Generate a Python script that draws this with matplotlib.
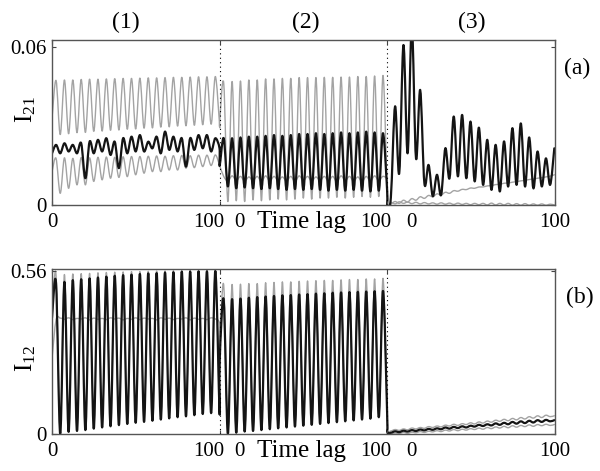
import matplotlib
matplotlib.use("Agg")
import matplotlib.pyplot as plt
import matplotlib.transforms as mtransforms
from matplotlib.path import Path
from matplotlib.patches import PathPatch
import numpy as np

plt.rcParams["font.family"] = ["Liberation Serif", "DejaVu Serif"]
plt.rcParams["mathtext.default"] = "regular"

# sample times inside one 0..100 window (start, then alternating peak / trough)
t_12 = np.concatenate([[0.0], 2.5 * np.arange(1, 41) - 0.1])
t_3 = np.concatenate([[0.0], 2.5 * np.arange(40) + 2.1])

# ---------------- panel (a): I21 ----------------
a_black_1 = [0.0197,
             0.0229, 0.0197, 0.0235, 0.0204, 0.0229, 0.0197, 0.0235, 0.0103, 0.0241, 0.0197,
             0.0248, 0.0204, 0.0254, 0.0191, 0.0241, 0.0141, 0.0254, 0.0197, 0.0260, 0.0204,
             0.0266, 0.0204, 0.0241, 0.0216, 0.0260, 0.0197, 0.0279, 0.0210, 0.0260, 0.0204,
             0.0254, 0.0147, 0.0254, 0.0210, 0.0266, 0.0216, 0.0266, 0.0204, 0.0254, 0.0216]
a_grey_hi_1 = [0.0330,
               0.0472, 0.0268, 0.0474, 0.0271, 0.0474, 0.0275, 0.0476, 0.0276, 0.0477, 0.0280,
               0.0477, 0.0281, 0.0478, 0.0284, 0.0479, 0.0285, 0.0480, 0.0288, 0.0480, 0.0289,
               0.0481, 0.0292, 0.0482, 0.0293, 0.0482, 0.0296, 0.0483, 0.0297, 0.0484, 0.0300,
               0.0484, 0.0301, 0.0485, 0.0303, 0.0486, 0.0305, 0.0486, 0.0307, 0.0487, 0.0310]
a_grey_lo_1 = [0.0128,
               0.0178, 0.0046, 0.0180, 0.0065, 0.0178, 0.0078, 0.0181, 0.0078, 0.0180, 0.0091,
               0.0182, 0.0097, 0.0183, 0.0103, 0.0182, 0.0106, 0.0184, 0.0109, 0.0185, 0.0116,
               0.0185, 0.0122, 0.0186, 0.0128, 0.0187, 0.0128, 0.0186, 0.0134, 0.0188, 0.0134,
               0.0189, 0.0141, 0.0188, 0.0143, 0.0190, 0.0147, 0.0190, 0.0151, 0.0191, 0.0153]

a_black_2 = [0.0150,
             0.0254, 0.0072, 0.0254, 0.0065, 0.0257, 0.0068, 0.0260, 0.0065, 0.0260, 0.0062,
             0.0263, 0.0065, 0.0266, 0.0062, 0.0263, 0.0059, 0.0266, 0.0062, 0.0270, 0.0059,
             0.0270, 0.0062, 0.0273, 0.0059, 0.0270, 0.0056, 0.0273, 0.0059, 0.0276, 0.0056,
             0.0273, 0.0059, 0.0276, 0.0056, 0.0279, 0.0053, 0.0276, 0.0056, 0.0273, 0.0053]
a_grey_hi_2 = [0.0317,
               0.0462, 0.0015, 0.0468, 0.0018, 0.0470, 0.0015, 0.0474, 0.0021, 0.0474, 0.0018,
               0.0478, 0.0021, 0.0478, 0.0024, 0.0480, 0.0021, 0.0480, 0.0024, 0.0483, 0.0028,
               0.0483, 0.0024, 0.0483, 0.0028, 0.0484, 0.0028, 0.0484, 0.0031, 0.0485, 0.0028,
               0.0485, 0.0031, 0.0487, 0.0034, 0.0487, 0.0031, 0.0489, 0.0034, 0.0491, 0.0037]
a_grey_lo_2 = [0.0150,
               0.0110, 0.0092, 0.0112, 0.0094, 0.0110, 0.0092, 0.0108, 0.0094, 0.0110, 0.0090,
               0.0112, 0.0092, 0.0110, 0.0094, 0.0108, 0.0092, 0.0110, 0.0090, 0.0112, 0.0094,
               0.0110, 0.0092, 0.0108, 0.0094, 0.0110, 0.0092, 0.0110, 0.0090, 0.0112, 0.0094,
               0.0110, 0.0092, 0.0108, 0.0090, 0.0110, 0.0092, 0.0112, 0.0094, 0.0110, 0.0092]

a_black_3 = [0.0000,
             0.0030, 0.0374, 0.0122, 0.0606, 0.0197, 0.0680, 0.0178, 0.0436, 0.0084, 0.0153,
             0.0035, 0.0116, 0.0040, 0.0216, 0.0103, 0.0336, 0.0110, 0.0342, 0.0103, 0.0317,
             0.0091, 0.0294, 0.0078, 0.0248, 0.0059, 0.0229, 0.0053, 0.0242, 0.0072, 0.0292,
             0.0078, 0.0310, 0.0072, 0.0257, 0.0065, 0.0204, 0.0072, 0.0178, 0.0078, 0.0216]
a_grey_hi_3 = [0.0000,
               0.0005, 0.0015, 0.0008, 0.0020, 0.0013, 0.0026, 0.0020, 0.0033, 0.0027, 0.0038,
               0.0033, 0.0044, 0.0040, 0.0050, 0.0046, 0.0056, 0.0054, 0.0061, 0.0060, 0.0066,
               0.0065, 0.0070, 0.0070, 0.0074, 0.0075, 0.0079, 0.0080, 0.0084, 0.0085, 0.0088,
               0.0090, 0.0093, 0.0095, 0.0098, 0.0100, 0.0103, 0.0105, 0.0108, 0.0111, 0.0116]
a_grey_lo_3 = [0.0000,
               0.0012, 0.0006, 0.0014, 0.0008, 0.0013, 0.0007, 0.0012, 0.0006, 0.0011, 0.0006,
               0.0010, 0.0005, 0.0010, 0.0005, 0.0009, 0.0004, 0.0009, 0.0004, 0.0008, 0.0003,
               0.0008, 0.0003, 0.0008, 0.0002, 0.0009, 0.0002, 0.0008, 0.0002, 0.0008, 0.0001,
               0.0007, 0.0001, 0.0007, 0.0001, 0.0006, 0.0001, 0.0006, 0.0001, 0.0005, 0.0002]

# ---------------- panel (b): I12 ----------------
b_black_1 = [0.400,
             0.517, 0.003, 0.522, 0.009, 0.528, 0.012, 0.531, 0.015, 0.534, 0.020,
             0.537, 0.024, 0.540, 0.028, 0.543, 0.032, 0.545, 0.036, 0.547, 0.040,
             0.549, 0.043, 0.551, 0.047, 0.552, 0.051, 0.554, 0.055, 0.555, 0.059,
             0.557, 0.062, 0.557, 0.066, 0.558, 0.070, 0.558, 0.073, 0.559, 0.077]
b_grey_hi_1 = [0.400,
               0.545, 0.009, 0.547, 0.015, 0.549, 0.018, 0.550, 0.021, 0.551, 0.026,
               0.553, 0.030, 0.554, 0.034, 0.555, 0.038, 0.556, 0.042, 0.557, 0.046,
               0.557, 0.049, 0.558, 0.053, 0.559, 0.057, 0.559, 0.061, 0.560, 0.065,
               0.560, 0.068, 0.561, 0.072, 0.561, 0.076, 0.562, 0.079, 0.562, 0.083]
b_grey_lo_1 = [0.260,
               0.392, 0.398, 0.394, 0.399, 0.393, 0.397, 0.395, 0.399, 0.392, 0.398,
               0.394, 0.397, 0.393, 0.399, 0.395, 0.398, 0.392, 0.397, 0.394, 0.399,
               0.393, 0.398, 0.395, 0.397, 0.392, 0.399, 0.394, 0.398, 0.393, 0.397,
               0.395, 0.399, 0.392, 0.398, 0.394, 0.397, 0.393, 0.399, 0.395, 0.380]

b_black_2 = [0.250,
             0.460, 0.003, 0.463, 0.006, 0.465, 0.010, 0.468, 0.012, 0.470, 0.015,
             0.472, 0.018, 0.474, 0.021, 0.476, 0.024, 0.477, 0.027, 0.479, 0.030,
             0.480, 0.033, 0.482, 0.036, 0.483, 0.039, 0.485, 0.042, 0.486, 0.045,
             0.487, 0.048, 0.488, 0.051, 0.489, 0.054, 0.490, 0.059, 0.491, 0.066]
b_grey_hi_2 = [0.270,
               0.511, 0.011, 0.513, 0.014, 0.514, 0.018, 0.516, 0.020, 0.516, 0.023,
               0.519, 0.026, 0.520, 0.029, 0.522, 0.032, 0.522, 0.035, 0.524, 0.038,
               0.525, 0.041, 0.526, 0.044, 0.527, 0.047, 0.527, 0.050, 0.529, 0.053,
               0.530, 0.056, 0.530, 0.059, 0.532, 0.062, 0.532, 0.067, 0.534, 0.074]
b_grey_lo_2 = [0.300,
               0.448, 0.006, 0.450, 0.009, 0.452, 0.013, 0.455, 0.015, 0.457, 0.018,
               0.459, 0.021, 0.461, 0.024, 0.463, 0.027, 0.464, 0.030, 0.466, 0.033,
               0.467, 0.036, 0.469, 0.039, 0.470, 0.042, 0.472, 0.045, 0.473, 0.048,
               0.474, 0.051, 0.475, 0.054, 0.476, 0.057, 0.477, 0.062, 0.478, 0.069]

b_black_3 = [0.009,
             0.006, 0.011, 0.008, 0.013, 0.010, 0.015, 0.012, 0.017, 0.014, 0.019,
             0.016, 0.021, 0.018, 0.024, 0.020, 0.026, 0.022, 0.028, 0.024, 0.030,
             0.027, 0.033, 0.029, 0.035, 0.031, 0.038, 0.033, 0.040, 0.035, 0.043,
             0.037, 0.045, 0.039, 0.047, 0.041, 0.049, 0.043, 0.050, 0.045, 0.049]
b_grey_hi_3 = [0.014,
               0.012, 0.017, 0.014, 0.019, 0.016, 0.022, 0.019, 0.024, 0.021, 0.027,
               0.024, 0.029, 0.026, 0.032, 0.029, 0.035, 0.031, 0.037, 0.034, 0.040,
               0.036, 0.043, 0.039, 0.046, 0.042, 0.049, 0.045, 0.052, 0.047, 0.055,
               0.050, 0.058, 0.053, 0.061, 0.056, 0.064, 0.058, 0.066, 0.061, 0.064]
b_grey_lo_3 = [0.004,
               0.002, 0.005, 0.003, 0.007, 0.004, 0.008, 0.006, 0.010, 0.007, 0.011,
               0.009, 0.013, 0.010, 0.015, 0.012, 0.017, 0.013, 0.018, 0.015, 0.020,
               0.017, 0.022, 0.018, 0.024, 0.020, 0.026, 0.022, 0.028, 0.023, 0.030,
               0.025, 0.031, 0.027, 0.033, 0.028, 0.034, 0.030, 0.035, 0.031, 0.034]

window_labels = ["(1)", "(2)", "(3)"]
xtick_text = ["0", "100", "0", "100", "0", "100"]
xtick_pos = [0, 93.4, 112, 192.8, 214.4, 300]

t_all = np.concatenate([t_12, t_12 + 100, t_3 + 200])

GREY = "#a3a3a3"
BLACK = "#141414"


def smooth_line(ax, x, y, **kw):
    # draw the polyline through the samples as a rounded (Catmull-Rom style) Bezier path
    pts = np.column_stack([x, y])
    p_prev = np.vstack([pts[:1], pts[:-2]])
    p_next = np.vstack([pts[2:], pts[-1:]])
    c1 = pts[:-1] + (pts[1:] - p_prev) / 6.0
    c2 = pts[1:] - (p_next - pts[:-1]) / 6.0
    verts = [pts[0]]
    codes = [Path.MOVETO]
    for a, b, e in zip(c1, c2, pts[1:]):
        verts += [a, b, e]
        codes += [Path.CURVE4] * 3
    ax.add_patch(PathPatch(Path(verts, codes), fill=False, capstyle="round",
                           joinstyle="round", **kw))


def draw_panel(ax, grey_hi, grey_lo, black, ymax, ytop, ylab, ylab_y):
    for seg in (grey_hi, grey_lo):
        smooth_line(ax, t_all, np.concatenate(seg), edgecolor=GREY, lw=1.0)
    smooth_line(ax, t_all, np.concatenate(black), edgecolor=BLACK, lw=1.6)

    for xb in (100, 200):
        ax.axvline(xb, color="k", ls=(0, (1, 3)), lw=0.8)

    ax.set_xlim(0, 300)
    ax.set_ylim(0, ytop)
    ax.set_xticks([0, 100, 200, 300])
    ax.set_yticks([0, ymax])
    ax.set_yticklabels(["0", ("%.2f" % ymax)], fontsize=15)
    ax.tick_params(direction="in", length=3, top=True, right=True,
                   labelbottom=False, pad=4, color="#444444")
    for sp in ax.spines.values():
        sp.set_color("#555555")
        sp.set_linewidth(1.0)

    trans = mtransforms.blended_transform_factory(ax.transData, ax.transAxes)
    for txt, xp in zip(xtick_text, xtick_pos):
        ax.text(xp, -0.1, txt, transform=trans, ha="center", va="center",
                fontsize=15)
    ax.text(149, -0.1, "Time lag", transform=trans, ha="center",
            va="center", fontsize=18)
    ax.text(-0.052, ylab_y, ylab, transform=ax.transAxes, rotation=90,
            ha="center", va="center", fontsize=18)


fig = plt.figure(figsize=(6.0, 4.71), dpi=100)
ax_a = fig.add_axes([0.0867, 0.5637, 0.8383, 0.3514])
ax_b = fig.add_axes([0.0867, 0.0775, 0.8383, 0.3514])

draw_panel(ax_a, [a_grey_hi_1, a_grey_hi_2, a_grey_hi_3],
           [a_grey_lo_1, a_grey_lo_2, a_grey_lo_3],
           [a_black_1, a_black_2, a_black_3], 0.06, 0.0625,
           "I$_{21}$", 0.58)
draw_panel(ax_b, [b_grey_hi_1, b_grey_hi_2, b_grey_hi_3],
           [b_grey_lo_1, b_grey_lo_2, b_grey_lo_3],
           [b_black_1, b_black_2, b_black_3], 0.56, 0.566,
           "I$_{12}$", 0.46)

for lab, xp in zip(window_labels, [126, 306, 472]):
    fig.text(xp / 600, 1 - 22 / 471, lab, ha="center", va="center",
             fontsize=17)
fig.text(577 / 600, 1 - 68 / 471, "(a)", ha="center", va="center",
         fontsize=17)
fig.text(580 / 600, 1 - 297 / 471, "(b)", ha="center", va="center",
         fontsize=17)

fig.savefig("out.png", dpi=100)
